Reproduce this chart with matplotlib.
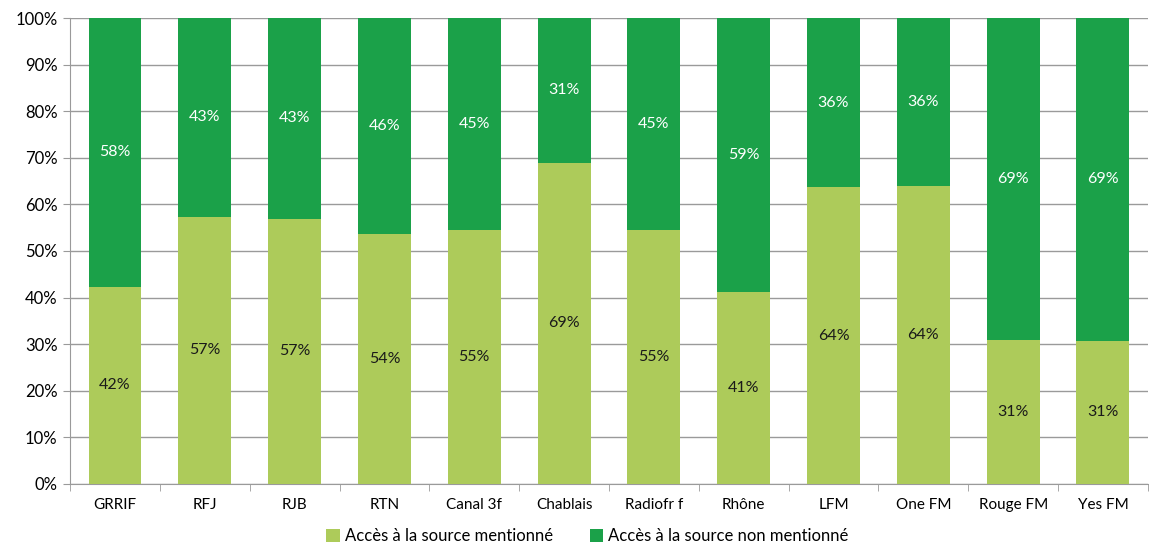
import numpy as np
import matplotlib.pyplot as plt
from matplotlib.ticker import PercentFormatter

# Données
radios = ['GRRIF', 'RFJ', 'RJB', 'RTN', 'Canal 3f', 'Chablais', 'Radiofr f',
          'Rhône', 'LFM', 'One FM', 'Rouge FM', 'Yes FM']
mentionne = [42.3, 57.3, 56.9, 53.7, 54.6, 68.9, 54.6, 41.1, 63.7, 63.9, 30.8, 30.7]
labels_mentionne = ['42%', '57%', '57%', '54%', '55%', '69%', '55%', '41%', '64%', '64%', '31%', '31%']
labels_non = ['58%', '43%', '43%', '46%', '45%', '31%', '45%', '59%', '36%', '36%', '69%', '69%']

mentionne = np.array(mentionne)
non_mentionne = 100 - mentionne

c_clair = '#ADCB5A'
c_fonce = '#1BA149'

plt.rcParams['font.family'] = ['Lato', 'DejaVu Sans']

fig = plt.figure(figsize=(11.49, 5.46), dpi=100)
ax = fig.add_axes([0.061, 0.1136, 0.938, 0.8534])

x = np.arange(len(radios))
ax.bar(x, mentionne, width=0.59, color=c_clair, label='Accès à la source mentionné', zorder=3)
ax.bar(x, non_mentionne, width=0.59, bottom=mentionne, color=c_fonce,
       label='Accès à la source non mentionné', zorder=3)

for i in range(len(radios)):
    ax.text(x[i], mentionne[i] / 2, labels_mentionne[i], ha='center', va='center',
            fontsize=11.5, color='#1a1a1a', zorder=4)
    ax.text(x[i], mentionne[i] + non_mentionne[i] / 2, labels_non[i], ha='center', va='center',
            fontsize=11.5, color='white', zorder=4)

ax.set_xlim(-0.5, len(radios) - 0.5)
ax.set_ylim(0, 100)
ax.set_yticks(np.arange(0, 101, 10))
ax.yaxis.set_major_formatter(PercentFormatter(decimals=0))
ax.grid(axis='y', color='#9a9a9a', linewidth=1, zorder=0)

ax.set_xticks(x)
ax.set_xticklabels(radios)
ax.set_xticks(np.arange(-0.5, len(radios), 1), minor=True)
ax.tick_params(axis='x', which='major', length=0, pad=10, labelsize=11)
ax.tick_params(axis='x', which='minor', length=5, color='#9a9a9a')
ax.tick_params(axis='y', length=5, color='#9a9a9a', labelsize=12, pad=4)

for s in ['top', 'right']:
    ax.spines[s].set_visible(False)
for s in ['left', 'bottom']:
    ax.spines[s].set_color('#9a9a9a')

ax.legend(loc='center', bbox_to_anchor=(0.48, -0.112), ncol=2, frameon=False,
          fontsize=12, handlelength=0.8, handleheight=0.8, handletextpad=0.3,
          columnspacing=2.2, borderpad=0)

plt.savefig('out.png', dpi=100)
